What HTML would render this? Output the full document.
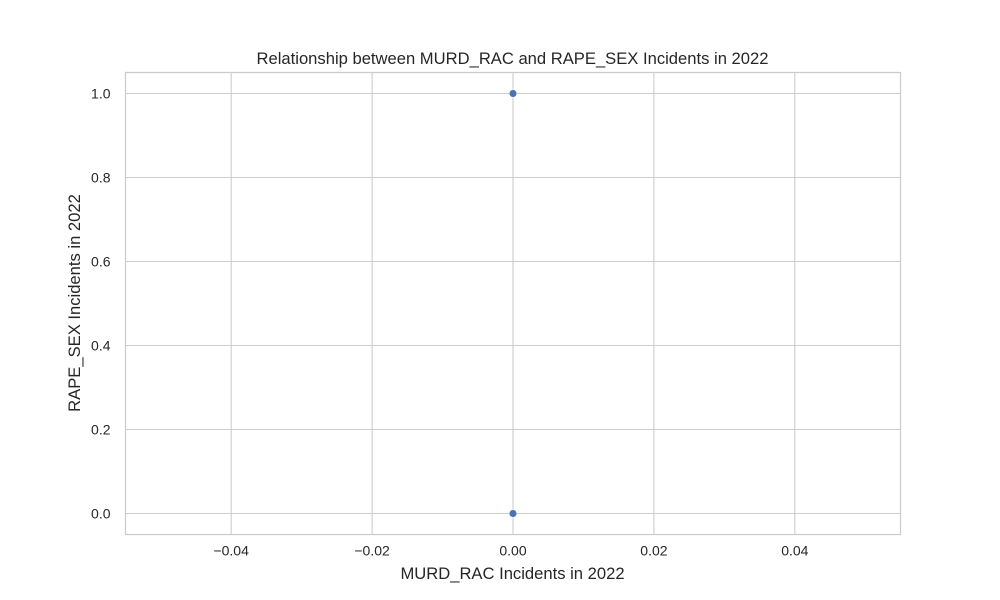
<!DOCTYPE html>
<html><head><meta charset="utf-8"><style>
body{margin:0;background:#fff}
svg{display:block;font-family:"Liberation Sans","DejaVu Sans",sans-serif}
</style></head><body>
<svg id="chart" width="1000" height="600">
<text x="512.5" y="64" text-anchor="middle" font-size="16.6" fill="#262626">Relationship between MURD_RAC and RAPE_SEX Incidents in 2022</text>
<text x="512.5" y="579" text-anchor="middle" font-size="16.6" fill="#262626">MURD_RAC Incidents in 2022</text>
<text transform="translate(80,303) rotate(-90)" text-anchor="middle" font-size="16.6" fill="#262626">RAPE_SEX Incidents in 2022</text>
<g id="grid"></g><g id="marks"></g>
<rect x="125.5" y="72.5" width="775" height="462" fill="none" stroke="#cccccc" stroke-width="1.25"/>
</svg>
<script>
const xVals=[0,0];
const yVals=[1,0];
const xTicks=[-0.04,-0.02,0,0.02,0.04];
const xTickLabels=["\u22120.04","\u22120.02","0.00","0.02","0.04"];
const yTicks=[0,0.2,0.4,0.6,0.8,1.0];
const yTickLabels=["0.0","0.2","0.4","0.6","0.8","1.0"];
const L=125.5,R=900.5,T=72.5,B=534.5;
const xMin=-0.055,xMax=0.055,yMin=-0.05,yMax=1.05;
const sx=v=>L+(v-xMin)/(xMax-xMin)*(R-L);
const sy=v=>B-(v-yMin)/(yMax-yMin)*(B-T);
const NS="http://www.w3.org/2000/svg";
const g=document.getElementById('grid'),m=document.getElementById('marks');
function mk(tag,at,p){const e=document.createElementNS(NS,tag);for(const k in at)e.setAttribute(k,at[k]);p.appendChild(e);return e;}
xTicks.forEach((t,i)=>{
 const l=mk('line',{x1:sx(t),x2:sx(t),y1:T,y2:B,stroke:'#cccccc','stroke-width':1.1},g);
 
 
 const tx=mk('text',{x:sx(t),y:B+21,'text-anchor':'middle','font-size':14,fill:'#262626'},g);
 tx.textContent=xTickLabels[i];
 
 
});
yTicks.forEach((t,i)=>{
 const l=mk('line',{x1:L,x2:R,y1:sy(t),y2:sy(t),stroke:'#cccccc','stroke-width':1.1},g);
 
 
 const tx=mk('text',{x:L-15,y:sy(t)+5,'text-anchor':'end','font-size':14,fill:'#262626'},g);
 tx.textContent=yTickLabels[i];
 
 
});
xVals.forEach((x,i)=>{
 const c=mk('circle',{cx:sx(x),cy:sy(yVals[i]),r:3.8,fill:'#4c72b0',stroke:'#fff','stroke-width':0.5},m);
 
 
});
</script>
</body></html>
